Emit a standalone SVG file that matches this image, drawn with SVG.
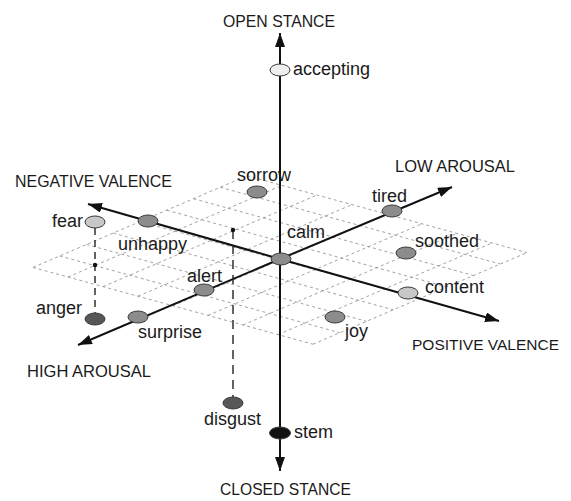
<svg xmlns="http://www.w3.org/2000/svg" width="571" height="501" viewBox="0 0 571 501">
  <style>
    text { font-family: "Liberation Sans", Arial, sans-serif; fill: #1a1a1a; }
    .lbl { font-size: 18px; }
    .cap { font-size: 17px; }
    .cap-sm { font-size: 15px; }
    .grid line { stroke: #8a8a8a; stroke-width: 0.8; stroke-dasharray: 3 3; }
    .axis { stroke: #111; stroke-width: 2; fill: none; }
    .drop { stroke: #222; stroke-width: 1.4; fill: none; }
    .node { stroke: #3a3a3a; stroke-width: 1; }
    .g-mid { fill: #8c8c8c; }
    .g-light { fill: #c8c8c8; }
    .g-pale { fill: #eeeeee; }
    .g-dark { fill: #575757; }
    .g-black { fill: #111; }
  </style>
  <defs>
    <marker id="arrow" markerUnits="userSpaceOnUse" markerWidth="16" markerHeight="12" refX="14" refY="5" orient="auto">
      <path d="M0,0 L14,5 L0,10 Z" fill="#111"/>
    </marker>
  </defs>

  <rect width="571" height="501" fill="#ffffff"/>

  <!-- dashed plane of valence x arousal -->
  <g id="plane" class="grid">
    <line x1="33" y1="267.4" x2="247" y2="175.8"/>
    <line x1="68" y1="277.0" x2="282" y2="185.4"/>
    <line x1="103" y1="286.6" x2="317" y2="195.0"/>
    <line x1="138" y1="296.2" x2="352" y2="204.6"/>
    <line x1="173" y1="305.8" x2="387" y2="214.2"/>
    <line x1="208" y1="315.4" x2="422" y2="223.8"/>
    <line x1="243" y1="325.0" x2="457" y2="233.4"/>
    <line x1="278" y1="334.6" x2="492" y2="243.0"/>
    <line x1="313" y1="344.2" x2="527" y2="252.6"/>
    <line x1="33" y1="267.4" x2="313" y2="344.2"/>
    <line x1="59.75" y1="256.0" x2="339.75" y2="332.7"/>
    <line x1="86.5" y1="244.5" x2="366.5" y2="321.3"/>
    <line x1="113.25" y1="233.1" x2="393.25" y2="309.8"/>
    <line x1="140" y1="221.6" x2="420" y2="298.4"/>
    <line x1="166.75" y1="210.2" x2="446.75" y2="286.9"/>
    <line x1="193.5" y1="198.7" x2="473.5" y2="275.5"/>
    <line x1="220.25" y1="187.3" x2="500.25" y2="264.0"/>
    <line x1="247" y1="175.8" x2="527" y2="252.6"/>
  </g>

  <!-- axes and drop lines -->
  <g id="connectors">
    <line class="axis" x1="280" y1="260" x2="280" y2="33" marker-end="url(#arrow)"/>
    <line class="axis" x1="280" y1="260" x2="280" y2="471" marker-end="url(#arrow)"/>
    <line class="axis" x1="280" y1="259" x2="88" y2="204" marker-end="url(#arrow)"/>
    <line class="axis" x1="280" y1="259" x2="499" y2="321" marker-end="url(#arrow)"/>
    <line class="axis" x1="280" y1="259" x2="452" y2="187" marker-end="url(#arrow)"/>
    <line class="axis" x1="280" y1="259" x2="78" y2="345" marker-end="url(#arrow)"/>
    <line class="drop" x1="95" y1="228" x2="95" y2="313" stroke-dasharray="7 5"/>
    <circle cx="95" cy="265" r="2.2" fill="#111"/>
    <line class="drop" x1="233" y1="230" x2="233" y2="397" stroke-dasharray="9 6"/>
    <circle cx="233" cy="230" r="2.2" fill="#111"/>
  </g>

  <!-- emotion nodes -->
  <g id="accepting"><ellipse class="node g-pale" cx="280" cy="70" rx="10" ry="6"/><text class="lbl" x="293" y="75">accepting</text></g>
  <g id="sorrow"><ellipse class="node g-mid" cx="257" cy="192" rx="10" ry="6"/><text class="lbl" x="237" y="181">sorrow</text></g>
  <g id="tired"><ellipse class="node g-mid" cx="392" cy="211" rx="10" ry="6"/><text class="lbl" x="372" y="202">tired</text></g>
  <g id="fear"><ellipse class="node g-light" cx="95" cy="222" rx="10" ry="6"/><text class="lbl" x="52" y="227">fear</text></g>
  <g id="unhappy"><ellipse class="node g-mid" cx="148" cy="221" rx="10" ry="6"/><text class="lbl" x="118" y="250">unhappy</text></g>
  <g id="calm"><ellipse class="node g-mid" cx="281" cy="259" rx="10" ry="6"/><text class="lbl" x="287" y="238">calm</text></g>
  <g id="soothed"><ellipse class="node g-mid" cx="406" cy="253" rx="10" ry="6"/><text class="lbl" x="415" y="247">soothed</text></g>
  <g id="alert"><ellipse class="node g-mid" cx="204" cy="290" rx="10" ry="6"/><text class="lbl" x="187" y="282">alert</text></g>
  <g id="content"><ellipse class="node g-light" cx="408" cy="293" rx="10" ry="6"/><text class="lbl" x="425" y="293">content</text></g>
  <g id="anger"><ellipse class="node g-dark" cx="95" cy="319" rx="10" ry="6"/><text class="lbl" x="36" y="314">anger</text></g>
  <g id="surprise"><ellipse class="node g-mid" cx="138" cy="317" rx="10" ry="6"/><text class="lbl" x="138" y="338">surprise</text></g>
  <g id="joy"><ellipse class="node g-mid" cx="335" cy="317" rx="10" ry="6"/><text class="lbl" x="345" y="337">joy</text></g>
  <g id="disgust"><ellipse class="node g-dark" cx="233" cy="403" rx="10" ry="6"/><text class="lbl" x="204" y="425">disgust</text></g>
  <g id="stem"><ellipse class="node g-black" cx="280" cy="433" rx="10.5" ry="6"/><text class="lbl" x="294" y="438">stem</text></g>

  <!-- axis end labels -->
  <g id="axis-labels">
    <text class="cap" x="223" y="27" textLength="112" lengthAdjust="spacingAndGlyphs">OPEN STANCE</text>
    <text class="cap" x="15" y="187" textLength="157" lengthAdjust="spacingAndGlyphs">NEGATIVE VALENCE</text>
    <text class="cap" x="395" y="172" textLength="120" lengthAdjust="spacingAndGlyphs">LOW AROUSAL</text>
    <text class="cap-sm" x="412" y="350" textLength="147" lengthAdjust="spacingAndGlyphs">POSITIVE VALENCE</text>
    <text class="cap" x="27" y="377" textLength="124" lengthAdjust="spacingAndGlyphs">HIGH AROUSAL</text>
    <text class="cap" x="220" y="495" textLength="131" lengthAdjust="spacingAndGlyphs">CLOSED STANCE</text>
  </g>
</svg>
